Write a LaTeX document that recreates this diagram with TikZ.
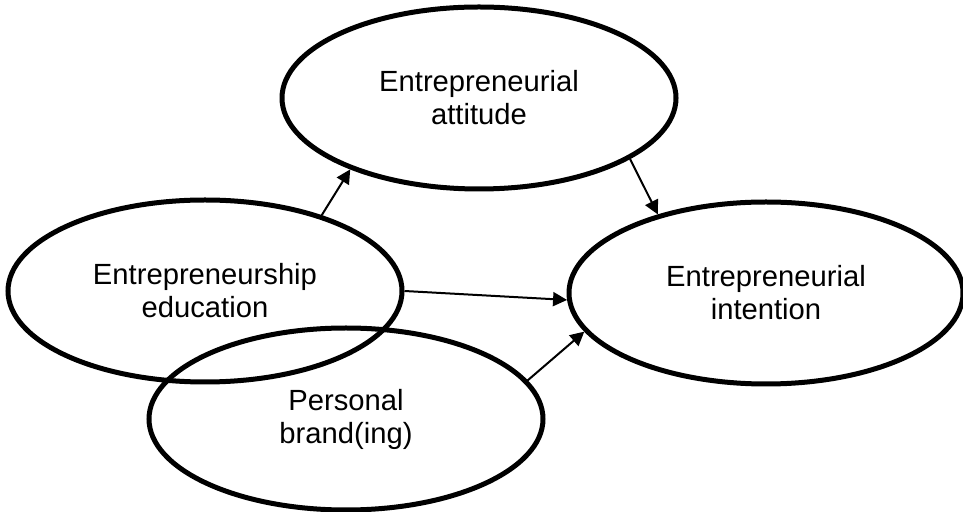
\documentclass[tikz,border=0pt]{standalone}
\usepackage{fontspec}
\setmainfont{Liberation Sans}
\usepackage{tikz}
\usetikzlibrary{shapes.geometric}
\usetikzlibrary{arrows.meta}

\begin{document}
\begin{tikzpicture}[
    x=0.5pt, y=-0.5pt,
    factor/.style={
        draw, ellipse, line width=2.5pt, minimum width=197pt, minimum height=91pt,
        inner sep=0pt, align=center, font=\fontsize{14.6}{16.5}\selectfont
    },
    path/.style={-{Triangle[length=7pt,width=7pt]}, line width=1pt},
]
\useasboundingbox (0,0) rectangle (963,512);

% Constructs
\node[factor] (attitude)  at (479,98)  {Entrepreneurial\\attitude};
\node[factor] (education) at (205,291) {Entrepreneurship\\education};
\node[factor] (intention) at (766,293) {Entrepreneurial\\intention};
\node[factor] (brand)     at (346,419) {Personal\\brand(ing)};

% Paths
\draw[path] (education.33)  -- (attitude.209);
\draw[path] (attitude.338)  -- (intention.144);
\draw[path] (education.0)   -- (intention.182);
\draw[path] (brand.12)      -- (intention.192);

\end{tikzpicture}
\end{document}
